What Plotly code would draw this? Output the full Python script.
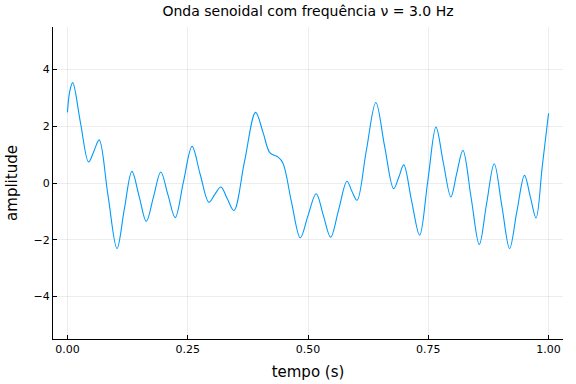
import plotly.graph_objects as go

# Values (time in s, amplitude)
tempo = [0.000, 0.005, 0.011, 0.027, 0.044, 0.055, 0.066, 0.084, 0.103, 0.118,
         0.134, 0.149, 0.164, 0.179, 0.194, 0.209, 0.224, 0.241, 0.259, 0.276,
         0.294, 0.306, 0.319, 0.332, 0.346, 0.368, 0.391, 0.407, 0.421, 0.438,
         0.448, 0.466, 0.484, 0.500, 0.517, 0.532, 0.547, 0.564, 0.581, 0.591,
         0.602, 0.621, 0.641, 0.659, 0.678, 0.689, 0.699, 0.715, 0.732, 0.749,
         0.766, 0.781, 0.797, 0.809, 0.822, 0.839, 0.856, 0.871, 0.887, 0.903,
         0.919, 0.934, 0.950, 0.962, 0.974, 0.987, 1.000]
amplitude = [2.49, 3.25, 3.54, 2.14, 0.74, 1.12, 1.52, -0.40, -2.31, -0.95,
             0.41, -0.47, -1.35, -0.48, 0.39, -0.42, -1.22, 0.03, 1.29, 0.30,
             -0.68, -0.41, -0.14, -0.55, -0.97, 0.75, 2.49, 1.76, 1.06, 0.91,
             0.70, -0.70, -1.93, -1.15, -0.38, -1.15, -1.91, -0.92, 0.06, -0.28,
             -0.61, 1.12, 2.84, 1.32, -0.20, 0.22, 0.64, -0.60, -1.84, 0.07,
             1.97, 0.74, -0.49, 0.33, 1.15, -0.51, -2.17, -0.75, 0.68, -0.82,
             -2.31, -1.02, 0.27, -0.48, -1.23, 0.60, 2.46]

x_ticks = [0.0, 0.25, 0.5, 0.75, 1.0]
x_ticklabels = ["0.00", "0.25", "0.50", "0.75", "1.00"]
y_ticks = [-4, -2, 0, 2, 4]

fig = go.Figure()
fig.add_trace(go.Scatter(
    x=tempo, y=amplitude, mode="lines",
    line=dict(color="#009AFA", width=1.1, shape="spline", smoothing=1.0),
    showlegend=False,
))

font = "DejaVu Sans"
fig.update_layout(
    width=576, height=384,
    margin=dict(l=53, r=13, t=27, b=45, autoexpand=False),
    paper_bgcolor="white", plot_bgcolor="white",
    font=dict(family=font, color="black"),
    title=dict(text="Onda senoidal com frequência ν = 3.0 Hz",
               x=(53 + 563) / 2 / 576, xanchor="center",
               y=1 - 11 / 384, yanchor="middle", automargin=False,
               font=dict(size=14, family=font)),
)
fig.update_xaxes(
    range=[-0.03, 1.03], automargin=False,
    tickvals=x_ticks, ticktext=x_ticklabels,
    ticks="inside", ticklen=4, tickcolor="black", tickwidth=1,
    showline=True, linecolor="black", linewidth=1,
    showgrid=True, gridcolor="rgba(0,0,0,0.07)", gridwidth=0.5,
    zeroline=False, mirror=False,
    tickfont=dict(size=11, family=font),
    title=dict(text="tempo (s)", font=dict(size=15, family=font), standoff=11),
)
fig.update_yaxes(
    range=[-5.5, 5.5], automargin=False,
    tickvals=y_ticks,
    ticks="inside", ticklen=4, tickcolor="black", tickwidth=1,
    showline=True, linecolor="black", linewidth=1,
    showgrid=True, gridcolor="rgba(0,0,0,0.07)", gridwidth=0.5,
    zeroline=False, mirror=False,
    tickfont=dict(size=11, family=font),
    title=dict(text="amplitude", font=dict(size=15, family=font), standoff=12),
)

fig.write_html("out.html", config={"displayModeBar": False},
               post_script="document.body.style.margin='0';")
